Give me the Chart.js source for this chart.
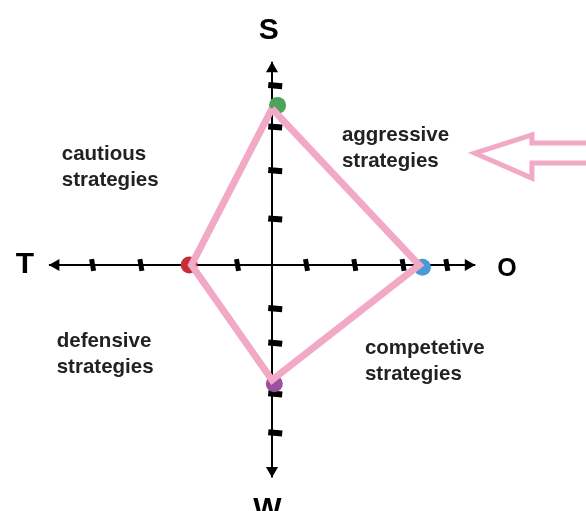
<!DOCTYPE html>
<html><head><meta charset="utf-8">
<script src="https://cdn.jsdelivr.net/npm/chart.js@4.4.1/dist/chart.umd.min.js"></script>
<style>html,body{margin:0;padding:0;background:#fff;overflow:hidden}canvas{display:block}</style>
</head><body>
<canvas id="c" width="586" height="511"></canvas>
<script>
// ---- data (in axis units) ----
const factors = ['S', 'O', 'W', 'T'];
const scoreS = 3.4;   // strengths (up)
const scoreO = 3.2;   // opportunities (right)
const scoreW = -2.5;  // weaknesses (down)
const scoreT = -1.75; // threats (left)
const hTicks = [-3.9, -2.85, -0.75, 0.75, 1.8, 2.85, 3.8];
const vTicks = [3.9, 3.0, 2.05, 1.0, -0.95, -1.7, -2.8, -3.65];
const axisXEnds = [-4.85, 4.42];
const axisYEnds = [4.42, -4.62];
const quadrantNames = ['cautious strategies', 'aggressive strategies', 'defensive strategies', 'competetive strategies'];

// ---- layout / style (not data) ----
const X_MIN = -5.913, X_MAX = 6.826, Y_MIN = -5.348, Y_MAX = 5.761;
const PINK = '#f1a9c5';
const arrowShape = [[7.2,2.65],[5.65,2.65],[5.65,2.83],[4.41,2.43],[5.65,1.89],[5.65,2.22],[7.2,2.22]];
const letterPos = {S:[-0.07,4.92,30], O:[5.11,-0.24,25], W:[-0.1,-5.5,30], T:[-5.37,-0.17,30]};
const quadPos = [[-4.57,2.28],[1.52,2.7],[-4.68,-1.78],[2.02,-1.93]];
const LINE_GAP = 0.56;

const ARW = 7/46;
const datasets = [
  { type:'line', label:'position', order:0,
    data:[{x:0,y:scoreS},{x:scoreO,y:0},{x:0,y:scoreW},{x:scoreT,y:0},{x:0,y:scoreS}],
    borderColor:PINK, borderWidth:7, pointRadius:0, fill:false, tension:0 },
  { type:'line', label:'arrow', order:0,
    data:arrowShape.map(p=>({x:p[0],y:p[1]})),
    borderColor:PINK, borderWidth:5, pointRadius:0, fill:false, tension:0 },
  { type:'scatter', label:'factors', order:1,
    data:[{x:0.12,y:scoreS+0.07},{x:scoreO+0.07,y:-0.05},{x:0.05,y:scoreW-0.08},{x:scoreT-0.05,y:0}],
    pointRadius:8.5, pointBorderWidth:0,
    pointBackgroundColor:['#4ea35a','#4a9ad6','#9b4f9f','#c62f3a'] },
  { type:'scatter', label:'hticks', order:2,
    data:hTicks.map(v=>({x:v,y:0})),
    pointStyle:'line', pointRotation:80, pointRadius:6, pointBorderWidth:5, pointBorderColor:'#000' },
  { type:'scatter', label:'vticks', order:2,
    data:vTicks.map(v=>({x:0.07,y:v})),
    pointStyle:'line', pointRotation:5, pointRadius:7, pointBorderWidth:6, pointBorderColor:'#000' },
  { type:'line', label:'xaxis', order:3,
    data:axisXEnds.map(v=>({x:v,y:0})), borderColor:'#000', borderWidth:2, pointRadius:0 },
  { type:'line', label:'yaxis', order:3,
    data:axisYEnds.map(v=>({x:0,y:v})), borderColor:'#000', borderWidth:2, pointRadius:0 },
  { type:'scatter', label:'heads', order:3,
    data:[{x:axisXEnds[0]+ARW,y:0},{x:axisXEnds[1]-ARW,y:0},{x:0,y:axisYEnds[0]-ARW},{x:0,y:axisYEnds[1]+ARW}],
    pointStyle:'triangle', pointRotation:[270,90,0,180], pointRadius:7,
    pointBackgroundColor:'#000', pointBorderWidth:0 }
];

const textPlugin = {
  id:'texts',
  afterDatasetsDraw(chart){
    const ctx = chart.ctx, xs = chart.scales.x, ys = chart.scales.y;
    ctx.save();
    ctx.fillStyle = '#000';
    ctx.textAlign = 'center';
    ctx.textBaseline = 'alphabetic';
    factors.forEach(f=>{
      const p = letterPos[f];
      ctx.font = 'bold ' + p[2] + 'px "Liberation Sans", Arial, sans-serif';
      ctx.fillText(f, xs.getPixelForValue(p[0]), ys.getPixelForValue(p[1]));
    });
    ctx.fillStyle = '#222';
    ctx.textAlign = 'left';
    ctx.font = 'bold 20.5px "Liberation Sans", Arial, sans-serif';
    quadrantNames.forEach((name,i)=>{
      const parts = name.split(' ');
      const p = quadPos[i];
      parts.forEach((w,j)=>{
        ctx.fillText(w, xs.getPixelForValue(p[0]), ys.getPixelForValue(p[1]-j*LINE_GAP));
      });
    });
    ctx.restore();
  }
};

new Chart(document.getElementById('c'), {
  data:{ datasets },
  options:{
    responsive:false, animation:false, devicePixelRatio:1, events:[],
    layout:{padding:0, autoPadding:false},
    plugins:{legend:{display:false}, tooltip:{enabled:false}},
    scales:{
      x:{type:'linear', min:X_MIN, max:X_MAX, display:false},
      y:{type:'linear', min:Y_MIN, max:Y_MAX, display:false}
    }
  },
  plugins:[textPlugin]
});
</script>
</body></html>
